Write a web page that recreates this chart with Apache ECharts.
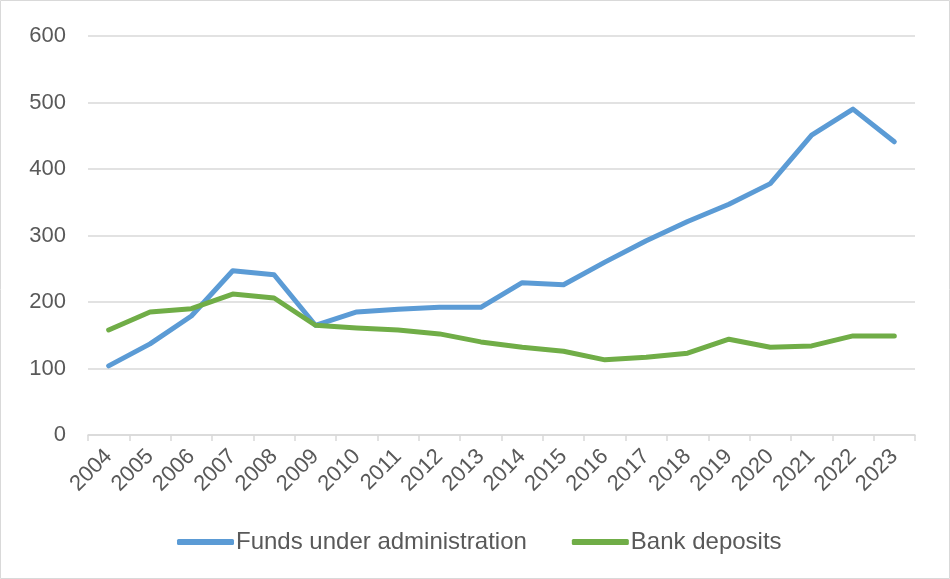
<!DOCTYPE html>
<html>
<head>
<meta charset="utf-8">
<script src="https://cdn.jsdelivr.net/npm/echarts@6/dist/echarts.min.js"></script>
<style>
  html, body { margin: 0; padding: 0; background: #fff; }
  #chart { width: 950px; height: 579px; }
</style>
</head>
<body>
<div id="chart"></div>
<script>
const years = ['2004', '2005', '2006', '2007', '2008', '2009', '2010', '2011', '2012', '2013',
  '2014', '2015', '2016', '2017', '2018', '2019', '2020', '2021', '2022', '2023'];
const fundsUnderAdministration = [104, 137, 179, 247, 241, 165, 185, 189, 192, 192,
  229, 226, 260, 292, 321, 347, 378, 451, 490, 441];
const bankDeposits = [158, 185, 190, 212, 206, 165, 161, 158, 152, 140,
  132, 126, 113, 117, 123, 144, 132, 134, 149, 149];
const yTicks = [0, 100, 200, 300, 400, 500, 600];

const chart = echarts.init(document.getElementById('chart'));
const font = '"Liberation Sans", Arial, sans-serif';

chart.setOption({
  animation: false,
  textStyle: { fontFamily: font },
  graphic: [{
    type: 'rect',
    shape: { x: 0.5, y: 0.5, width: 949, height: 578 },
    style: { fill: 'none', stroke: '#d9d9d9', lineWidth: 1 },
    silent: true
  }],
  grid: { left: 88, right: 35, top: 36, bottom: 144 },
  legend: {
    bottom: 20,
    left: 172,
    icon: 'roundRect',
    itemWidth: 57,
    itemHeight: 6,
    itemGap: 45,
    textStyle: { fontSize: 24, color: '#595959', fontFamily: font, padding: [0, 0, 0, -3] },
    data: ['Funds under administration', 'Bank deposits']
  },
  xAxis: {
    type: 'category',
    data: years,
    boundaryGap: true,
    axisLine: { lineStyle: { color: '#d9d9d9', width: 1.5 } },
    axisTick: { show: true, length: 6, lineStyle: { color: '#d9d9d9', width: 1.5 } },
    axisLabel: { rotate: 45, fontSize: 22, color: '#595959', interval: 0, margin: 18, fontFamily: font }
  },
  yAxis: {
    type: 'value',
    min: yTicks[0],
    max: yTicks[yTicks.length - 1],
    interval: 100,
    axisLine: { show: false },
    axisTick: { show: false },
    splitLine: { lineStyle: { color: '#d9d9d9', width: 1.5 } },
    axisLabel: { fontSize: 22, color: '#595959', margin: 22, fontFamily: font }
  },
  series: [
    {
      name: 'Funds under administration',
      type: 'line',
      data: fundsUnderAdministration,
      symbol: 'none',
      lineStyle: { color: '#5b9bd5', width: 5, cap: 'round', join: 'round' },
      itemStyle: { color: '#5b9bd5' }
    },
    {
      name: 'Bank deposits',
      type: 'line',
      data: bankDeposits,
      symbol: 'none',
      lineStyle: { color: '#70ad47', width: 5, cap: 'round', join: 'round' },
      itemStyle: { color: '#70ad47' }
    }
  ]
});
</script>
</body>
</html>
